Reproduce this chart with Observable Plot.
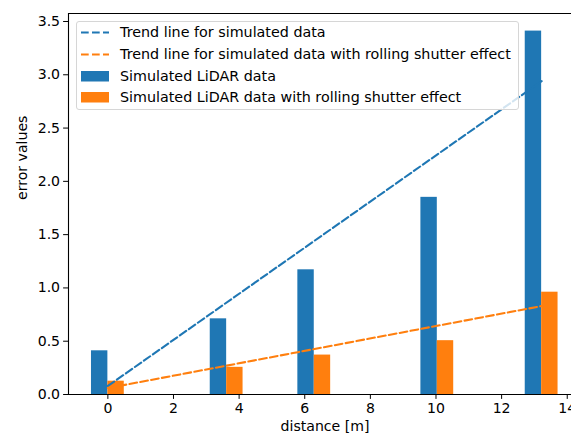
<!DOCTYPE html>
<html>
<head>
<meta charset="utf-8">
<script src="https://cdn.jsdelivr.net/npm/d3@7"></script>
<script src="https://cdn.jsdelivr.net/npm/@observablehq/plot@0.6"></script>
<style>
  html, body { margin: 0; padding: 0; background: #fff; }
  #wrap { position: relative; width: 571px; height: 439px; overflow: hidden; font-family: "DejaVu Sans", sans-serif; }
  #legend {
    position: absolute; left: 76px; top: 21px; width: 443px; height: 89px;
    background: rgba(255,255,255,0.8); border: 1px solid #d6d6d6; border-radius: 3px;
    box-sizing: border-box; font-size: 14.3px; color: #000;
  }
  .row { position: absolute; left: 0; height: 22px; }
  .row span { position: absolute; left: 43px; white-space: nowrap; line-height: 16px; top: 2px; }
  .row svg { position: absolute; left: 4px; top: 0; }
</style>
</head>
<body>
<div id="wrap"></div>
<script>
// ---- data ----
const distances = [0, 3.62, 6.29, 10.04, 13.22];
const simulated = [0.41, 0.71, 1.17, 1.85, 3.41];
const rollingShutter = [0.125, 0.255, 0.37, 0.505, 0.96];
const trendX = [0, 13.22];
const trendSimulated = [0.08, 2.94];
const trendRolling = [0.06, 0.83];
const xTicks = [0, 2, 4, 6, 8, 10, 12, 14];
const yTicks = [0, 0.5, 1.0, 1.5, 2.0, 2.5, 3.0, 3.5];
const seriesLabels = [
  "Trend line for simulated data",
  "Trend line for simulated data with rolling shutter effect",
  "Simulated LiDAR data",
  "Simulated LiDAR data with rolling shutter effect"
];

const blue = "#1f77b4", orange = "#ff7f0e";
const barW = 0.5;
const xDomain = [-1.2, 14.13];
const yDomain = [0, 3.575];

const bars = distances.map((d, i) => ({d, sim: simulated[i], rs: rollingShutter[i]}));
const trendA = trendX.map((x, i) => ({x, y: trendSimulated[i]}));
const trendB = trendX.map((x, i) => ({x, y: trendRolling[i]}));

const fs = 14.1;
const plot = Plot.plot({
  width: 571,
  height: 439,
  marginLeft: 68,
  marginRight: 0,
  marginTop: 13,
  marginBottom: 45,
  style: {fontFamily: "DejaVu Sans, sans-serif", fontSize: fs + "px", color: "#000", background: "#fff"},
  x: {domain: xDomain},
  y: {domain: yDomain},
  marks: [
    Plot.rectY(bars, {x1: d => d.d - barW, x2: d => d.d, y1: 0, y2: "sim", fill: blue, insetLeft: 0, insetRight: 0}),
    Plot.rectY(bars, {x1: d => d.d, x2: d => d.d + barW, y1: 0, y2: "rs", fill: orange, insetLeft: 0, insetRight: 0}),
    Plot.line(trendA, {x: "x", y: "y", stroke: blue, strokeWidth: 2.08, strokeDasharray: "7.7,3.3"}),
    Plot.line(trendB, {x: "x", y: "y", stroke: orange, strokeWidth: 2.08, strokeDasharray: "7.7,3.3"}),
    Plot.ruleX([xDomain[0]], {stroke: "#000", strokeWidth: 1.1}),
    Plot.ruleY([yDomain[0], yDomain[1]], {stroke: "#000", strokeWidth: 1.1}),
    Plot.axisX(xTicks, {tickSize: 4.9, tickPadding: 3.5, tickFormat: d => String(d), fontSize: fs, label: null, stroke: "#000"}),
    Plot.axisY(yTicks, {tickSize: 4.9, tickPadding: 3.5, tickFormat: d => d.toFixed(1), fontSize: fs, label: null, stroke: "#000"}),
    Plot.text(["distance [m]"], {frameAnchor: "bottom", dx: 5, dy: 36, text: d => d, fontSize: fs}),
    Plot.text(["error values"], {frameAnchor: "left", dx: -46, dy: -4, rotate: -90, text: d => d, fontSize: fs})
  ]
});

const wrap = document.getElementById("wrap");
wrap.appendChild(plot);

// legend (matplotlib-style, inside axes, upper left)
const legend = document.createElement("div");
legend.id = "legend";
const items = [
  {type: "line", color: blue},
  {type: "line", color: orange},
  {type: "patch", color: blue},
  {type: "patch", color: orange}
];
items.forEach((it, i) => {
  const row = document.createElement("div");
  row.className = "row";
  row.style.top = (i * 21.8) + "px";
  const s = d3.create("svg").attr("width", 30).attr("height", 22);
  if (it.type === "line") {
    s.append("line").attr("x1", 0).attr("x2", 28).attr("y1", 10.5).attr("y2", 10.5)
      .attr("stroke", it.color).attr("stroke-width", 2.08).attr("stroke-dasharray", "7.7,3.3");
  } else {
    s.append("rect").attr("x", 0).attr("y", 5).attr("width", 28).attr("height", 10.5).attr("fill", it.color);
  }
  row.appendChild(s.node());
  const t = document.createElement("span");
  t.textContent = seriesLabels[i];
  row.appendChild(t);
  legend.appendChild(row);
});
wrap.appendChild(legend);
</script>
</body>
</html>
